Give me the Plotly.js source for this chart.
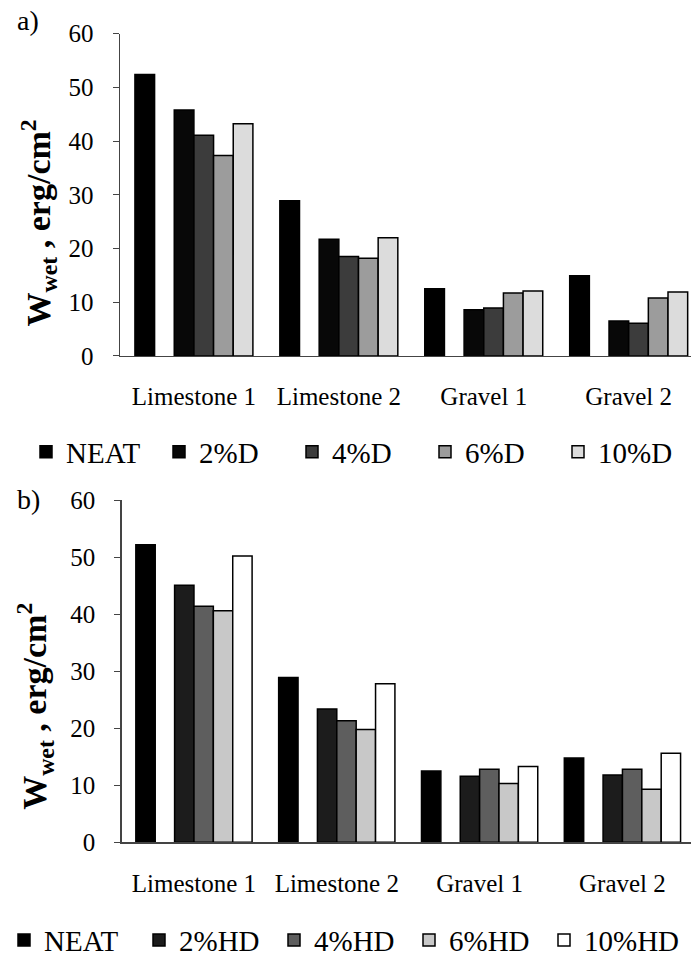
<!DOCTYPE html>
<html>
<head>
<meta charset="utf-8">
<script src="https://cdn.plot.ly/plotly-3.0.1.min.js"></script>
<style>html,body{margin:0;padding:0;background:#fff;}#chart{width:691px;height:966px;}</style>
</head>
<body>
<div id="chart"></div>
<script>
const categories = ['Limestone 1', 'Limestone 2', 'Gravel 1', 'Gravel 2'];

// Panel a) series
const neatA  = [52.4, 28.9, 12.5, 14.9];
const d2     = [45.8, 21.7, 8.6, 6.5];
const d4     = [41.1, 18.5, 8.9, 6.1];
const d6     = [37.3, 18.2, 11.7, 10.8];
const d10    = [43.2, 22.0, 12.1, 11.9];

// Panel b) series
const neatB  = [52.2, 28.9, 12.5, 14.8];
const hd2    = [45.1, 23.4, 11.6, 11.8];
const hd4    = [41.4, 21.3, 12.8, 12.8];
const hd6    = [40.6, 19.8, 10.3, 9.3];
const hd10   = [50.2, 27.8, 13.3, 15.6];

// empty slot between NEAT and the additive series (blank column in the source)
const emptySlot = [null, null, null, null];

const seriesNamesA = ['NEAT', '2%D', '4%D', '6%D', '10%D'];
const seriesNamesB = ['NEAT', '2%HD', '4%HD', '6%HD', '10%HD'];

const colorsA = ['#000000', '#080808', '#3c3c3c', '#9c9c9c', '#dcdcdc'];
const colorsB = ['#000000', '#1c1c1c', '#5e5e5e', '#c8c8c8', '#ffffff'];

const FONT = 'Liberation Serif';

function bar(name, y, color, xa, ya, legend, show) {
  return {
    type: 'bar', name: name, x: categories, y: y,
    xaxis: xa, yaxis: ya, legend: legend, showlegend: show,
    marker: {color: color, line: {color: '#000', width: 1.5}},
    hoverinfo: show ? 'all' : 'skip'
  };
}

const dataA = [neatA, emptySlot, d2, d4, d6, d10];
const dataB = [neatB, emptySlot, hd2, hd4, hd6, hd10];

const traces = [];
[0, 1, 2, 3, 4, 5].forEach(function (i) {
  const k = i === 0 ? 0 : i - 1;
  if (i === 1) {
    traces.push(bar('gap', dataA[i], '#fff', 'x', 'y', 'legend', false));
  } else {
    traces.push(bar(seriesNamesA[k], dataA[i], colorsA[k], 'x', 'y', 'legend', true));
  }
});
[0, 1, 2, 3, 4, 5].forEach(function (i) {
  const k = i === 0 ? 0 : i - 1;
  if (i === 1) {
    traces.push(bar('gap', dataB[i], '#fff', 'x2', 'y2', 'legend2', false));
  } else {
    traces.push(bar(seriesNamesB[k], dataB[i], colorsB[k], 'x2', 'y2', 'legend2', true));
  }
});

const W = 691, H = 966;
function px(x) { return x / W; }
function py(y) { return 1 - y / H; }

const yAxisCommon = {
  range: [0, 60], dtick: 10, tick0: 0,
  showgrid: false, zeroline: false,
  showline: true, linecolor: '#444', linewidth: 1.5,
  ticks: 'outside', ticklen: 6, tickcolor: '#444', tickwidth: 1,
  ticklabelstandoff: 14,
  tickfont: {family: FONT, size: 25, color: '#000'}
};
const xAxisCommon = {
  showgrid: false, zeroline: false,
  showline: true, linecolor: '#444', linewidth: 1.5,
  ticks: '', ticklabelstandoff: 18,
  tickfont: {family: FONT, size: 25, color: '#000'}
};

const layout = {
  width: W, height: H,
  margin: {l: 0, r: 0, t: 0, b: 0},
  paper_bgcolor: '#fff', plot_bgcolor: '#fff',
  barmode: 'group', bargap: 0.186, bargroupgap: 0,
  font: {family: FONT, color: '#000'},
  xaxis: Object.assign({}, xAxisCommon, {domain: [px(120), 1], range: [-0.51, 3.43], anchor: 'y'}),
  yaxis: Object.assign({}, yAxisCommon, {domain: [py(360), py(34)], anchor: 'x'}),
  xaxis2: Object.assign({}, xAxisCommon, {domain: [px(121.7), 1], range: [-0.506, 3.48], anchor: 'y2'}),
  yaxis2: Object.assign({}, yAxisCommon, {domain: [py(852), py(506)], anchor: 'x2'}),
  legend: {
    orientation: 'h', x: px(38), y: py(457), xanchor: 'left', yanchor: 'middle',
    font: {family: FONT, size: 29, color: '#000'},
    entrywidth: 88, entrywidthmode: 'pixels', itemwidth: 30,
    bgcolor: 'rgba(0,0,0,0)', traceorder: 'normal'
  },
  legend2: {
    orientation: 'h', x: px(4), y: py(951), xanchor: 'left', yanchor: 'middle',
    font: {family: FONT, size: 29, color: '#000'},
    entrywidth: 90, entrywidthmode: 'pixels', itemwidth: 30,
    bgcolor: 'rgba(0,0,0,0)', traceorder: 'normal'
  },
  annotations: [
    {text: 'a)', xref: 'paper', yref: 'paper', x: px(28), y: py(21), xanchor: 'center', yanchor: 'middle',
     showarrow: false, font: {family: FONT, size: 28, color: '#000'}},
    {text: 'b)', xref: 'paper', yref: 'paper', x: px(28), y: py(505), xanchor: 'center', yanchor: 'middle',
     showarrow: false, font: {family: FONT, size: 28, color: '#000'}},
    {text: '<b>W<sub>wet</sub> , erg/cm<sup>2</sup></b>', xref: 'paper', yref: 'paper',
     x: px(38), y: py(226), xanchor: 'center', yanchor: 'middle', textangle: -90, showarrow: false,
     font: {family: FONT, size: 34, color: '#000'}},
    {text: '<b>W<sub>wet</sub> , erg/cm<sup>2</sup></b>', xref: 'paper', yref: 'paper',
     x: px(35), y: py(715), xanchor: 'center', yanchor: 'middle', textangle: -90, showarrow: false,
     font: {family: FONT, size: 34, color: '#000'}}
  ]
};

Plotly.newPlot('chart', traces, layout, {displayModeBar: false, staticPlot: true});
</script>
</body>
</html>
